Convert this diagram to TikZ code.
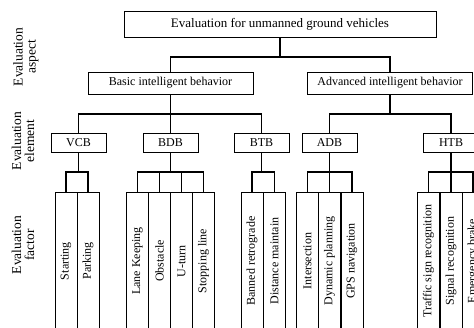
\documentclass[tikz,border=0pt]{standalone}
\usepackage{fontspec}
\setmainfont{Liberation Serif}
\begin{document}
\begin{tikzpicture}[x=1pt,y=-1pt,
  font=\fontsize{12}{14}\selectfont,
  box/.style={draw, line width=0.7pt, inner sep=0pt},
  topbox/.style={box, minimum width=312pt, minimum height=26pt, font=\fontsize{13}{15}\selectfont},
  aspbox/.style={box, minimum width=165pt, minimum height=22pt},
  elbox/.style={box, minimum width=55pt, minimum height=19pt},
  facbox/.style={box, rotate=90, minimum width=138pt, minimum height=22pt},
  conn/.style={line width=1.1pt},
  side/.style={rotate=90, align=center, font=\fontsize{13.5}{13}\selectfont}]
\clip (0,0) rectangle (474,327);
\coordinate (L1) at (0,57);
\coordinate (L2) at (0,114);
\coordinate (L3) at (0,172);

\node[side] (la) at (26,57) {Evaluation\\aspect};
\node[side] (le) at (23,141) {Evaluation\\element};
\node[side] (lf) at (23,245) {Evaluation\\factor};

\node[topbox] (top) at (280,24) {Evaluation for unmanned ground vehicles};
\node[aspbox] (basic) at (170.5,83) {Basic intelligent behavior};
\node[aspbox] (adv) at (390,83) {Advanced intelligent behavior};

\node[elbox] (vcb) at (78.5,142.5) {VCB};
\node[elbox] (bdb) at (170.5,142.5) {BDB};
\node[elbox] (btb) at (261.5,142.5) {BTB};
\node[elbox] (adb) at (329.5,142.5) {ADB};
\node[elbox] (htb) at (451,142.5) {HTB};

\node[facbox] (f1) at (66,261) {Starting};
\node[facbox] (f2) at (88,261) {Parking};
\node[facbox] (f3) at (137.5,261) {Lane Keeping};
\node[facbox] (f4) at (159.5,261) {Obstacle};
\node[facbox] (f5) at (181.5,261) {U-turn};
\node[facbox] (f6) at (203.5,261) {Stopping line};
\node[facbox] (f7) at (252,261) {Banned retrograde};
\node[facbox] (f8) at (274.5,261) {Distance maintain};
\node[facbox] (f9) at (307.5,261) {Intersection};
\node[facbox] (f10) at (329.5,261) {Dynamic planning};
\node[facbox] (f11) at (352,261) {GPS navigation};
\node[facbox] (f12) at (428.5,261) {Traffic sign recognition};
\node[facbox] (f13) at (451,261) {Signal recognition};
\node[facbox] (f14) at (473,261) {Emergency brake};

\draw[conn] (top.south) -- (top.south |- L1) -| (basic.north);
\draw[conn] (top.south |- L1) -| (adv.north);

\draw[conn] (basic.south) -- (basic.south |- L2) -| (vcb.north);
\draw[conn] (basic.south |- L2) -- (bdb.north);
\draw[conn] (basic.south |- L2) -| (btb.north);
\draw[conn] (adv.south) -- (adv.south |- L2) -| (adb.north);
\draw[conn] (adv.south |- L2) -| (htb.north);

\draw[conn] (vcb.south) -- (vcb.south |- L3);
\draw[conn] (f1.east) |- (vcb.south |- L3) -| (f2.east);
\draw[conn] (bdb.south) -- (bdb.south |- L3);
\draw[conn] (f3.east) |- (bdb.south |- L3) -| (f6.east);
\draw[conn] (f4.east) -- (f4.east |- L3);
\draw[conn] (f5.east) -- (f5.east |- L3);
\draw[conn] (btb.south) -- (btb.south |- L3);
\draw[conn] (f7.east) |- (btb.south |- L3) -| (f8.east);
\draw[conn] (adb.south) -- (adb.south |- L3);
\draw[conn] (f9.east) |- (adb.south |- L3) -| (f11.east);
\draw[conn] (f10.east) -- (f10.east |- L3);
\draw[conn] (htb.south) -- (htb.south |- L3);
\draw[conn] (f12.east) |- (htb.south |- L3) -| (f14.east);
\draw[conn] (f13.east) -- (f13.east |- L3);
\end{tikzpicture}
\end{document}
